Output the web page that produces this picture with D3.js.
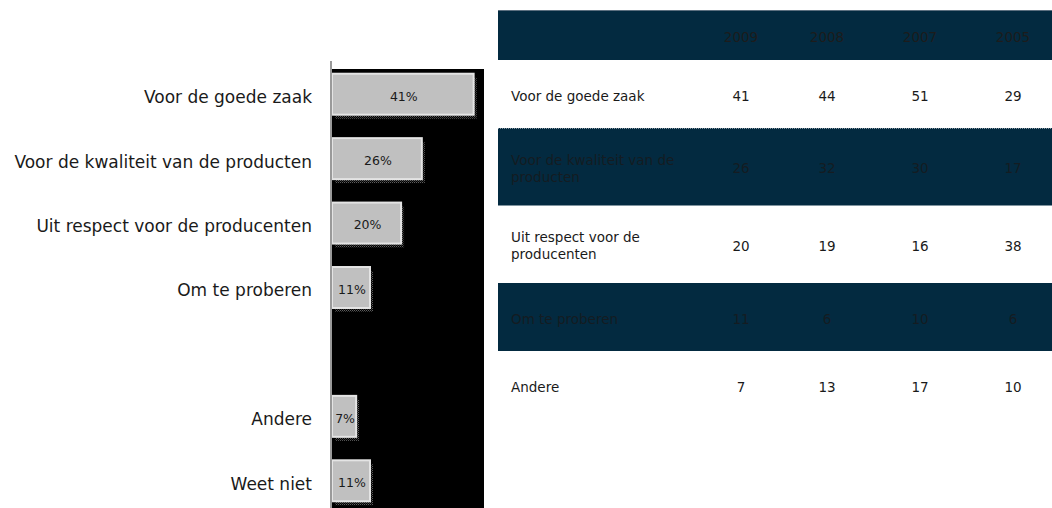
<!DOCTYPE html>
<html>
<head>
<meta charset="utf-8">
<script src="https://cdn.jsdelivr.net/npm/d3@7/dist/d3.min.js"></script>
<style>
  html, body { margin: 0; padding: 0; background: #ffffff; }
  svg { display: block; font-family: "DejaVu Sans", Verdana, sans-serif; }
</style>
</head>
<body>
<svg id="chart" width="1052" height="508"></svg>
<script>
// Reasons for buying: share of respondents (2009), bar chart
const barCategories = [
  "Voor de goede zaak",
  "Voor de kwaliteit van de producten",
  "Uit respect voor de producenten",
  "Om te proberen",
  "",
  "Andere",
  "Weet niet"
];
const barValues = [41, 26, 20, 11, null, 7, 11];

// Comparison table across survey years
const tableYears = ["2009", "2008", "2007", "2005"];
const tableLabels = [
  "Voor de goede zaak",
  "Voor de kwaliteit van de producten",
  "Uit respect voor de producenten",
  "Om te proberen",
  "Andere"
];
const values2009 = [41, 26, 20, 11, 7];
const values2008 = [44, 32, 19, 6, 13];
const values2007 = [51, 30, 16, 10, 17];
const values2005 = [29, 17, 38, 6, 10];
const tableValues = [values2009, values2008, values2007, values2005];

const svg = d3.select("#chart");
const dark = "#032a40";
const textDark = "#1a1a1a";

// ---------- bar chart ----------
const plot = { left: 332, right: 484, top: 69, bottom: 508 };

const x = d3.scaleLinear().domain([0, 44]).range([plot.left, plot.right]);
const y = d3.scaleBand()
  .domain(barCategories.map((d, i) => i))
  .range([62, 513])
  .paddingInner(0.364)
  .paddingOuter(0.182);

const defs = svg.append("defs");
const pat = defs.append("pattern")
  .attr("id", "shadowDots")
  .attr("width", 2).attr("height", 2)
  .attr("patternUnits", "userSpaceOnUse");
pat.append("rect").attr("width", 2).attr("height", 2).attr("fill", "#000");
pat.append("rect").attr("x", 0).attr("y", 0).attr("width", 1).attr("height", 1).attr("fill", "#5e5e5e");
pat.append("rect").attr("x", 1).attr("y", 1).attr("width", 1).attr("height", 1).attr("fill", "#333");

svg.append("rect")
  .attr("x", plot.left).attr("y", plot.top)
  .attr("width", plot.right - plot.left)
  .attr("height", plot.bottom - plot.top)
  .attr("fill", "#000");

const barData = barCategories.map((c, i) => ({ i, c, v: barValues[i] })).filter(d => d.v != null);

// drop shadows
svg.append("g").selectAll("rect")
  .data(barData)
  .join("rect")
  .attr("x", x(0) + 3)
  .attr("y", d => y(d.i) + 4)
  .attr("width", d => x(d.v) - x(0))
  .attr("height", y.bandwidth())
  .attr("fill", "url(#shadowDots)");

// bars
svg.append("g").selectAll("rect")
  .data(barData)
  .join("rect")
  .attr("x", x(0))
  .attr("y", d => y(d.i))
  .attr("width", d => x(d.v) - x(0))
  .attr("height", y.bandwidth())
  .attr("fill", "#c0c0c0")
  .attr("stroke", "#e4e4e4")
  .attr("stroke-width", 2);

// value labels inside bars
svg.append("g").selectAll("text")
  .data(barData)
  .join("text")
  .attr("x", d => (x(0) + x(d.v)) / 2 + 1)
  .attr("y", d => y(d.i) + y.bandwidth() / 2 + 2)
  .attr("dy", "0.35em")
  .attr("text-anchor", "middle")
  .attr("font-size", 12.5)
  .attr("fill", textDark)
  .text(d => d.v + "%");

// vertical axis line
svg.append("line")
  .attr("x1", plot.left - 1).attr("x2", plot.left - 1)
  .attr("y1", 61).attr("y2", plot.bottom)
  .attr("stroke", "#9a9a9a")
  .attr("stroke-width", 2);

// category labels
svg.append("g").selectAll("text")
  .data(barCategories.map((c, i) => ({ i, c })).filter(d => d.c !== ""))
  .join("text")
  .attr("x", 312)
  .attr("y", d => y(d.i) + y.bandwidth() / 2 + 3)
  .attr("dy", "0.35em")
  .attr("text-anchor", "end")
  .attr("font-size", 17)
  .attr("fill", textDark)
  .text(d => d.c);

// ---------- table ----------
const table = { left: 498, right: 1052, top: 10, headerH: 50, labelX: 511, wrapW: 195 };
const colX = [741, 827, 920, 1013];
const fs = 13.5;
const lineH = 17;

// wrap labels into lines that fit the label column
const measure = svg.append("text").attr("font-size", fs).attr("visibility", "hidden");
function wrap(label) {
  const words = label.split(" ");
  const lines = [];
  let cur = "";
  words.forEach(w => {
    const t = cur ? cur + " " + w : w;
    measure.text(t);
    if (measure.node().getComputedTextLength() > table.wrapW && cur) {
      lines.push(cur);
      cur = w;
    } else {
      cur = t;
    }
  });
  lines.push(cur);
  return lines;
}
const rows = tableLabels.map((l, i) => ({ i, lines: wrap(l) }));
measure.remove();

// row heights grow with the number of label lines
let yy = table.top + table.headerH;
rows.forEach(r => {
  r.h = r.lines.length > 1 ? 77.5 : 68;
  r.y = yy;
  yy += r.h;
});

// header
svg.append("rect")
  .attr("x", table.left).attr("y", table.top)
  .attr("width", table.right - table.left).attr("height", table.headerH)
  .attr("fill", dark);
svg.append("line")
  .attr("x1", table.left).attr("x2", table.right)
  .attr("y1", table.top + 0.5).attr("y2", table.top + 0.5)
  .attr("stroke", "#5d7080").attr("stroke-width", 1);
svg.append("g").selectAll("text")
  .data(tableYears)
  .join("text")
  .attr("x", (d, j) => colX[j])
  .attr("y", table.top + table.headerH / 2 + 2)
  .attr("dy", "0.35em")
  .attr("text-anchor", "middle")
  .attr("font-size", fs)
  .attr("fill", "#1c1c1c")
  .text(d => d);

// banded rows
const rowG = svg.append("g").selectAll("g")
  .data(rows)
  .join("g");

rowG.filter(r => r.i % 2 === 1)
  .append("rect")
  .attr("x", table.left).attr("y", r => r.y)
  .attr("width", table.right - table.left).attr("height", r => r.h)
  .attr("fill", dark);

rowG.filter(r => r.i === 1)
  .append("line")
  .attr("x1", table.left).attr("x2", table.right)
  .attr("y1", r => r.y + 0.5).attr("y2", r => r.y + 0.5)
  .attr("stroke", "#8796a2").attr("stroke-width", 1)
  .attr("stroke-dasharray", "1,1");

rowG.each(function (r) {
  const g = d3.select(this);
  const col = r.i % 2 === 1 ? "#141c22" : textDark;
  const cy = r.y + r.h / 2 + 2;
  const n = r.lines.length;
  g.append("text")
    .attr("font-size", fs)
    .attr("fill", col)
    .selectAll("tspan")
    .data(r.lines)
    .join("tspan")
    .attr("x", table.labelX)
    .attr("y", (d, k) => cy + (k - (n - 1) / 2) * lineH)
    .attr("dy", "0.35em")
    .text(d => d);
  g.selectAll("text.val")
    .data(tableValues.map(v => v[r.i]))
    .join("text")
    .attr("class", "val")
    .attr("x", (d, j) => colX[j])
    .attr("y", cy)
    .attr("dy", "0.35em")
    .attr("text-anchor", "middle")
    .attr("font-size", fs)
    .attr("fill", col)
    .text(d => d);
});
</script>
</body>
</html>
